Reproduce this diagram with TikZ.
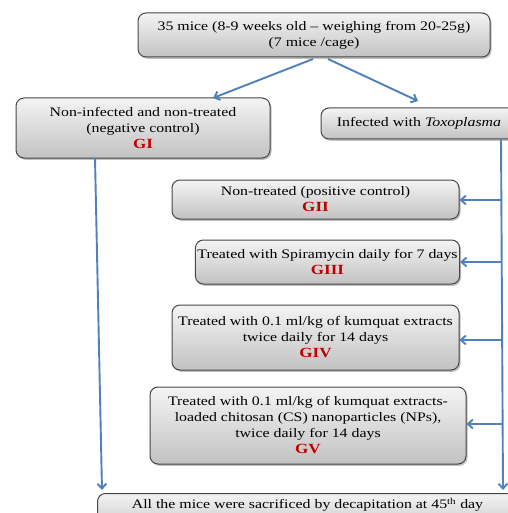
\documentclass[tikz,border=0pt]{standalone}
\usepackage{fontspec}
\setmainfont[FakeStretch=1.22]{Liberation Serif}
\usetikzlibrary{arrows.meta,shadows}
\definecolor{arrowblue}{HTML}{4F81BD}
\definecolor{gred}{HTML}{C00000}
\definecolor{boxtop}{HTML}{F4F4F4}
\definecolor{boxbot}{HTML}{C2C2C2}
\begin{document}
\begin{tikzpicture}[x=1pt,y=-1pt,
  box/.style={draw=black!72, line width=1pt, rounded corners=8pt,
    top color=boxtop, bottom color=boxbot,
    drop shadow={shadow xshift=1.5pt, shadow yshift=-1.8pt, opacity=0.5},
    align=center, font=\fontsize{13}{16}\selectfont, inner sep=2pt},
  conn/.style={draw=arrowblue, line width=1.9pt, -{Straight Barb[length=5pt,width=9pt]}},
  grp/.style={text=gred, font=\fontsize{14}{16}\selectfont\bfseries}]
\useasboundingbox (0,0) rectangle (507,513);
\fill[white] (0,0) rectangle (507,513);

\node[box, minimum width=352pt, minimum height=44pt] (top) at (314,35)
  {35 mice (8-9 weeks old -- weighing from 20-25g)\\(7 mice /cage)};
\node[box, minimum width=254pt, minimum height=60pt] (g1) at (143,128)
  {Non-infected and non-treated\\(negative control)\\{\color{gred}\fontsize{14}{16}\selectfont\bfseries GI}};
\node[box, minimum width=196pt, minimum height=31pt] (inf) at (419,123.5)
  {Infected with \textit{Toxoplasma}};
\node[box, minimum width=287pt, minimum height=39pt] (g2) at (315.5,199.5)
  {Non-treated (positive control)\\{\color{gred}\fontsize{14}{16}\selectfont\bfseries GII}};
\node[box, minimum width=263pt, minimum height=44pt] (g3) at (327.5,262)
  {Treated with Spiramycin daily for 7 days\\{\color{gred}\fontsize{14}{16}\selectfont\bfseries GIII}};
\node[box, minimum width=287pt, minimum height=65pt] (g4) at (315.5,337.5)
  {Treated with 0.1 ml/kg of kumquat extracts\\twice daily for 14 days\\{\color{gred}\fontsize{14}{16}\selectfont\bfseries GIV}};
\node[box, minimum width=316pt, minimum height=77pt] (g5) at (308,425.5)
  {Treated with 0.1 ml/kg of kumquat extracts-\\loaded chitosan (CS) nanoparticles (NPs),\\twice daily for 14 days\\{\color{gred}\fontsize{14}{16}\selectfont\bfseries GV}};
\node[box, minimum width=420pt, minimum height=40pt, anchor=north west] (all) at (97,493)
  {All the mice were sacrificed by decapitation at 45\textsuperscript{th} day\\\strut};

\coordinate (tl) at (313,59);
\coordinate (tr) at (328,59);
\coordinate (l1) at (213,98);
\coordinate (r1) at (418,101);
\draw[conn] (tl) -- (l1);
\draw[conn] (tr) -- (r1);

\coordinate (ls) at (95,158);
\coordinate (le) at (102,490);
\draw[conn] (ls) -- (le);

\coordinate (rs) at (501,139);
\coordinate (re) at (503,490);
\draw[conn] (rs) -- (re);

\coordinate (b2) at (501,200);
\coordinate (b3) at (501,262);
\coordinate (b4) at (502,340);
\coordinate (b5) at (502.5,424);
\draw[conn] (b2) -- (g2.east |- b2);
\draw[conn] (b3) -- (g3.east |- b3);
\draw[conn] (b4) -- (g4.east |- b4);
\draw[conn] (b5) -- (g5.east |- b5);
\end{tikzpicture}
\end{document}
